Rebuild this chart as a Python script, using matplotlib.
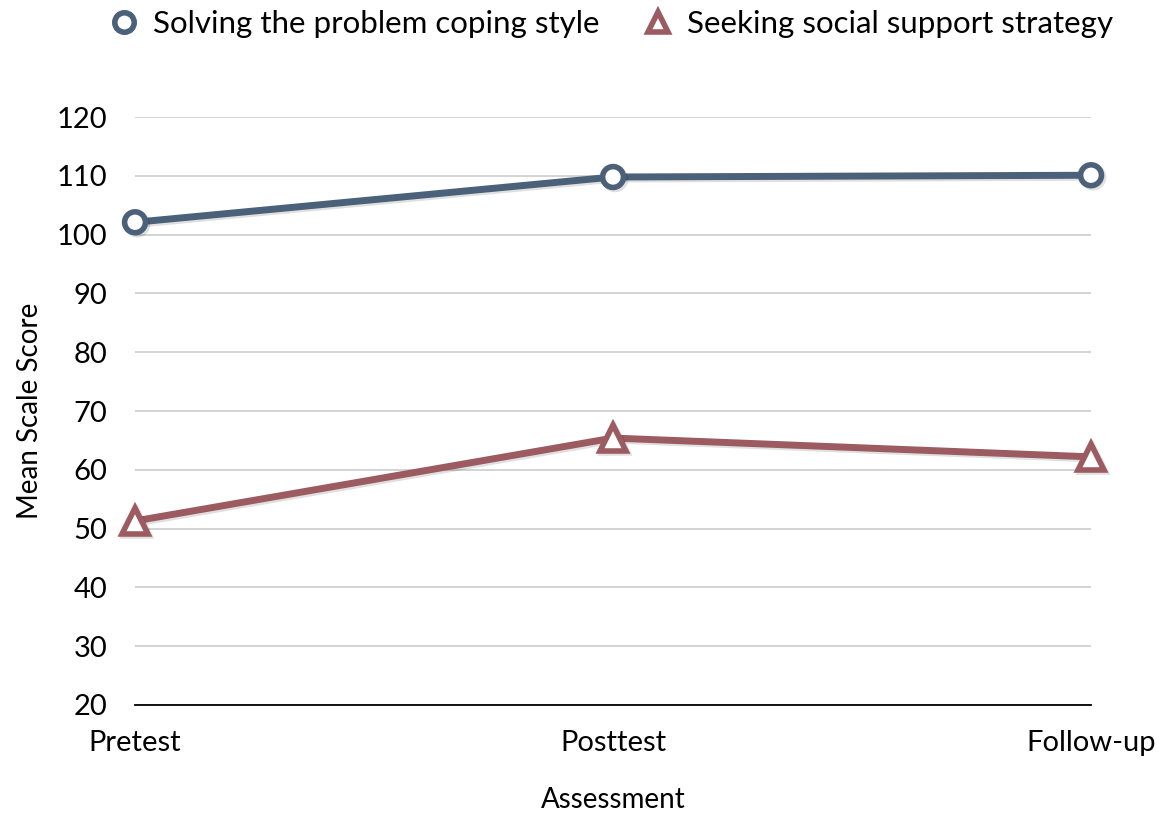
import matplotlib.pyplot as plt
import matplotlib.patheffects as pe
from matplotlib.lines import Line2D

plt.rcParams["font.family"] = ["Lato", "DejaVu Sans"]

stages = ["Pretest", "Posttest", "Follow-up"]
problem_solving = [102.1, 109.8, 110.1]
social_support = [51.3, 65.4, 62.2]

blue = "#4b6079"
red = "#9c5b60"

fig = plt.figure(figsize=(11.67, 8.15), dpi=100)
ax = fig.add_axes([0.1157, 0.135, 0.8192, 0.7214])

x = list(range(len(stages)))
shadow = [pe.SimpleLineShadow(offset=(1.5, -1.5), alpha=0.12), pe.Normal()]

ax.plot(x, problem_solving, color=blue, lw=5, marker="o", ms=15,
        mfc="white", mec=blue, mew=4, clip_on=False, zorder=4,
        path_effects=shadow)
ax.plot(x, social_support, color=red, lw=5, marker="^", ms=19,
        mfc="white", mec=red, mew=4, clip_on=False, zorder=4,
        path_effects=shadow)

ax.set_xlim(0, 2)
ax.set_ylim(20, 120)
ax.set_yticks(range(20, 121, 10))
ax.set_xticks(x)
ax.set_xticklabels(stages)
ax.yaxis.grid(True, color="#cccccc", lw=1.2)
ax.set_axisbelow(True)
for s in ["top", "right", "left"]:
    ax.spines[s].set_visible(False)
ax.spines["bottom"].set_color("black")
ax.spines["bottom"].set_linewidth(1.3)
ax.tick_params(length=0, labelsize=21)
ax.tick_params(axis="y", pad=20)
ax.tick_params(axis="x", pad=18)

ax.set_xlabel("Assessment", fontsize=20, labelpad=22)
ax.set_ylabel("Mean Scale Score", fontsize=20, labelpad=10)

handles = [
    Line2D([], [], ls="none", marker="o", ms=14, mfc="white", mec=blue, mew=4),
    Line2D([], [], ls="none", marker="^", ms=15, mfc="white", mec=red, mew=4),
]
fig.legend(handles, ["Solving the problem coping style", "Seeking social support strategy"],
           loc="upper center", bbox_to_anchor=(0.522, 1.022), ncol=2, frameon=False,
           fontsize=22.5, handlelength=1.2, handletextpad=0.3, columnspacing=1.3)

fig.savefig("out.png", dpi=100)
